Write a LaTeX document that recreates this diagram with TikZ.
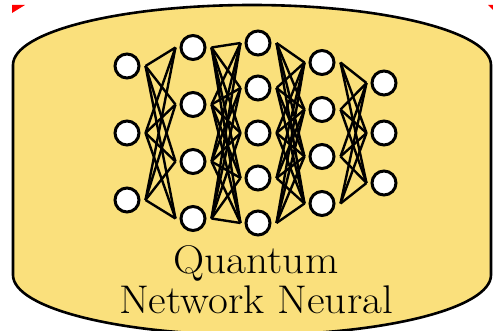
\documentclass[tikz,border=0pt]{standalone}
\usepackage{fontspec}
\usetikzlibrary{calc}

\definecolor{qyellow}{RGB}{250,224,124}
\tikzset{
  neuron/.style={circle,draw,fill=white,line width=3pt,minimum size=24pt,inner sep=0pt},
  synapse/.style={line width=2.4pt},
  caption/.style={font=\fontsize{40}{40}\selectfont,xscale=1.08,inner sep=0pt,anchor=base}
}

\begin{document}
\begin{tikzpicture}[x=1pt,y=1pt]
  \useasboundingbox (0,0) rectangle (493,330);
  % outer capsule
  \draw[fill=qyellow,line width=2.6pt] (13,55) -- (13,265)
    arc[start angle=180,end angle=0,x radius=239,y radius=60] -- (491,55)
    arc[start angle=0,end angle=-180,x radius=239,y radius=60] -- cycle;
  \fill[red] (12,325) -- (25,325) -- (12,317) -- cycle;
  \fill[red] (488,325) -- (493,325) -- (493,320) -- cycle;
  % neurons
  \foreach \l/\n/\x/\d in {1/3/127/67,2/4/193/57,3/5/258/45,4/4/322/47,5/3/384/50}
    \foreach \j in {1,...,\n}
      \node[neuron] (n-\l-\j) at (\x,{197+((\n+1)/2-\j)*\d}) {};
  % synapses
  \foreach \l/\m/\n in {1/3/4,2/4/5,3/5/4,4/4/3} {
    \pgfmathtruncatemacro\k{\l+1}
    \foreach \i in {1,...,\m}
      \foreach \j in {1,...,\n}
        \draw[synapse] ([xshift=5pt]n-\l-\i.east) -- ([xshift=-4pt]n-\k-\j.west);
  }
  \node[caption] (quantum) at (256,57) {Quantum};
  \node[caption] (nnet) at (256,17) {Network Neural};
\end{tikzpicture}
\end{document}
